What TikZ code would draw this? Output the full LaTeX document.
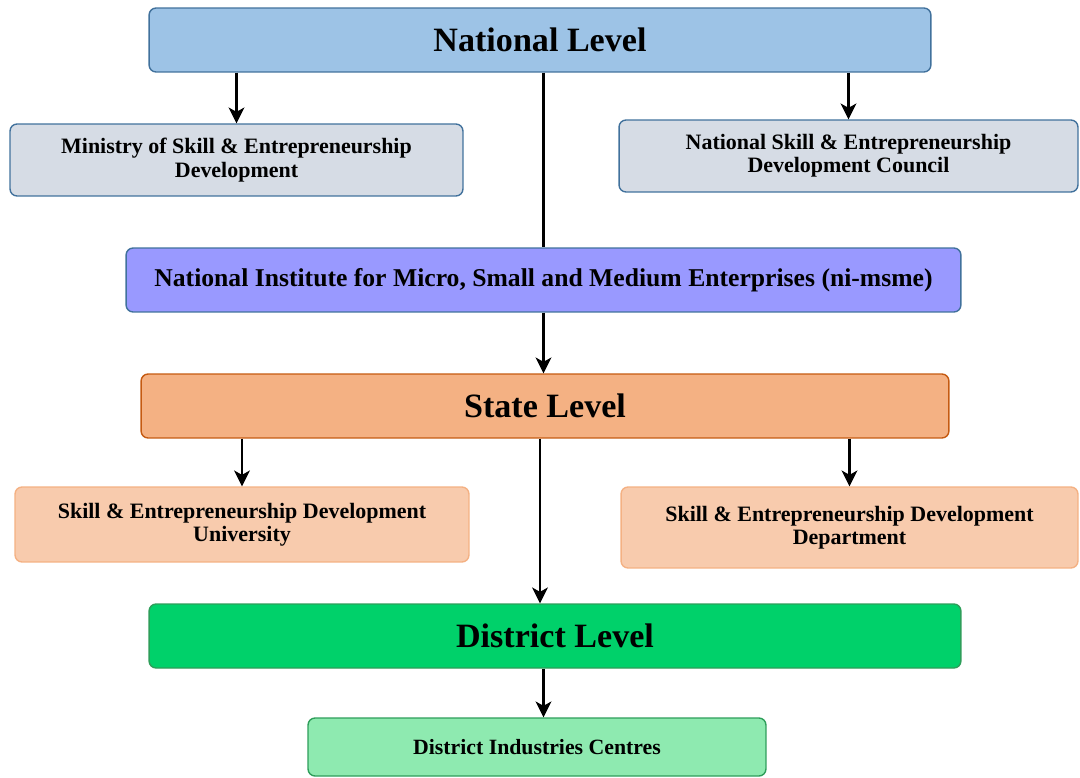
\documentclass[tikz,border=0pt]{standalone}
\usepackage{fontspec}
\setmainfont{Liberation Serif}
\usepackage{tikz}
\usetikzlibrary{shapes, arrows.meta, positioning}
\definecolor{natblue}{HTML}{9DC3E6}
\definecolor{edgeblue}{HTML}{41719C}
\definecolor{grayblue}{HTML}{D6DCE5}
\definecolor{violet}{HTML}{9999FF}
\definecolor{stateorange}{HTML}{F4B183}
\definecolor{edgeorange}{HTML}{C55A11}
\definecolor{peach}{HTML}{F8CBAD}
\definecolor{distgreen}{HTML}{00D16A}
\definecolor{edgegreen}{HTML}{2E9E5A}
\definecolor{lightgreen}{HTML}{8EEAB0}

\begin{document}
\begin{tikzpicture}
  [
    x=0.02cm, y=-0.02cm,
    Box/.style={rectangle, rounded corners=4pt, line width=0.8pt, align=center,
      font=\bfseries, inner sep=2pt},
    Level/.style={Box, minimum height=1.28cm, font=\bfseries\fontsize{19.4}{22}\selectfont},
    Blue/.style={Level, draw=edgeblue, fill=natblue},
    Gray/.style={Box, draw=edgeblue, fill=grayblue, minimum height=1.44cm,
      font=\bfseries\fontsize{12.5}{13.3}\selectfont},
    Violet/.style={Box, draw=edgeblue, fill=violet, minimum height=1.28cm,
      font=\bfseries\fontsize{14.6}{16}\selectfont},
    Orange/.style={Level, draw=edgeorange, fill=stateorange},
    Peach/.style={Box, draw=stateorange, fill=peach,
      font=\bfseries\fontsize{12.5}{13.3}\selectfont},
    Green/.style={Level, draw=edgegreen, fill=distgreen},
    Mint/.style={Box, draw=edgegreen, fill=lightgreen,
      font=\bfseries\fontsize{12.4}{14}\selectfont},
    arr/.style={-{Stealth[length=9pt, width=9pt, inset=2.5pt]}, draw, line width=1.4pt}
  ]
  \useasboundingbox (0, 0) rectangle (1080, 778);
  % Nodes
  \node[Blue, minimum width=15.64cm] (nat) at(540, 40) {National Level};
  \node[Gray, minimum width=9.06cm] (min) at(236.5, 160) {Ministry of Skill \& Entrepreneurship\\Development};
  \node[Gray, minimum width=9.18cm] (nsedc) at(848.5, 156) {National Skill \& Entrepreneurship\\Development Council};
  \node[Violet, minimum width=16.7cm] (nim) at(543.5, 280) {National Institute for Micro, Small and Medium Enterprises (ni-msme)};
  \node[Orange, minimum width=16.16cm] (state) at(545, 406) {State Level};
  \node[Peach, minimum width=9.08cm, minimum height=1.5cm] (sedu) at(242, 524.5) {Skill \& Entrepreneurship Development\\University};
  \node[Peach, minimum width=9.14cm, minimum height=1.62cm] (sedd) at(849.5, 527.5) {Skill \& Entrepreneurship Development\\Department};
  \node[Green, minimum width=16.24cm] (dist) at(555, 636) {District Level};
  \node[Mint, minimum width=9.16cm, minimum height=1.16cm] (dic) at(537, 747) {District Industries Centres};
  % Lines
  \path [arr] (nat.south -| min.north) -- (min.north);
  \path [arr] (nat.south -| nsedc.north) -- (nsedc.north);
  \path [draw, line width=1.4pt] (nat.south -| nim.north) -- (nim.north);
  \path [arr] (nim.south) -- (nim.south |- state.north);
  \path [arr] (state.south -| sedu.north) -- (sedu.north);
  \path [arr] (state.south -| sedd.north) -- (sedd.north);
  \path [arr] (nat.south |- state.south) -- (nat.south |- dist.north);
  \path [arr] (nim.south |- dist.south) -- (nim.south |- dic.north);
\end{tikzpicture}
\end{document}
